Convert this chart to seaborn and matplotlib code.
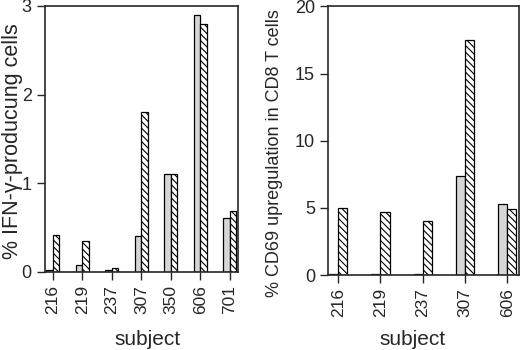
import numpy as np
import pandas as pd
import matplotlib.pyplot as plt
import seaborn as sns

# left panel: IFN-gamma producing cells
subjects_ifn = ['216', '219', '237', '307', '350', '606', '701']
ifn_gray = [0.02, 0.08, 0.02, 0.41, 1.1, 2.9, 0.61]
ifn_hatch = [0.42, 0.35, 0.04, 1.8, 1.1, 2.8, 0.69]

# right panel: CD69 upregulation
subjects_cd69 = ['216', '219', '237', '307', '606']
cd69_gray = [0.1, 0.1, 0.1, 7.4, 5.3]
cd69_hatch = [5.0, 4.7, 4.0, 17.5, 4.9]

sns.set_style('ticks')
plt.rcParams['font.family'] = ['Liberation Sans', 'DejaVu Sans']
plt.rcParams['hatch.linewidth'] = 0.8


def long_df(subjects, gray, hatch):
    return pd.DataFrame({
        'subject': subjects * 2,
        'value': gray + hatch,
        'group': ['gray'] * len(subjects) + ['hatch'] * len(subjects),
    })


def draw(ax, df, width, ylim, yticks, ylabel, ylab_size, ylab_xy, xlab_xy, xlim):
    sns.barplot(data=df, x='subject', y='value', hue='group',
                palette={'gray': '#d6d6d6', 'hatch': 'white'},
                width=width, edgecolor='black', linewidth=0.9,
                legend=False, ax=ax, errorbar=None)
    for bar in ax.containers[1]:
        bar.set_hatch('\\' * 5)
    ax.set_ylim(*ylim)
    ax.set_xlim(*xlim)
    ax.set_yticks(yticks)
    ax.tick_params(axis='y', labelsize=13, length=6, width=1)
    ax.tick_params(axis='x', labelsize=12.5, length=6, width=1, labelrotation=90)
    for s in ax.spines.values():
        s.set_visible(True)
        s.set_linewidth(1.2)
    ax.set_ylabel(ylabel, fontsize=ylab_size)
    ax.yaxis.set_label_coords(*ylab_xy)
    ax.set_xlabel('subject', fontsize=15)
    ax.xaxis.set_label_coords(*xlab_xy)


fig = plt.figure(figsize=(5.2, 3.5), dpi=100)
ax1 = fig.add_axes([0.0865, 0.223, 0.371, 0.76])
ax2 = fig.add_axes([0.631, 0.214, 0.367, 0.768])

draw(ax1, long_df(subjects_ifn, ifn_gray, ifn_hatch), 0.44, (0, 3), [0, 1, 2, 3],
     '% IFN-\u03b3-producung cells', 15.5, (-0.115, 0.49), (0.53, -0.22), (-0.27, 6.27))
draw(ax2, long_df(subjects_cd69, cd69_gray, cd69_hatch), 0.43, (0, 20), [0, 5, 10, 15, 20],
     '% CD69 upregulation in CD8 T cells', 13, (-0.235, 0.455), (0.44, -0.205), (-0.24, 4.28))

fig.savefig('out.png', dpi=100)
